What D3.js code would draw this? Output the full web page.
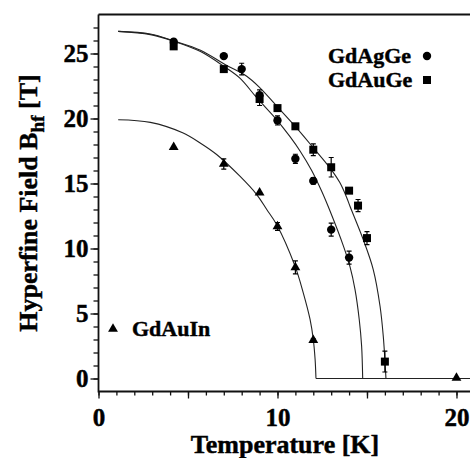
<!DOCTYPE html>
<html>
<head>
<meta charset="utf-8">
<script src="https://cdn.jsdelivr.net/npm/d3@7"></script>
<style>
  body { margin: 0; background: #fff; }
  svg { display: block; font-family: "Liberation Serif", "Times New Roman", serif; font-weight: bold; }
  svg text { stroke: #000; stroke-width: 0.45px; }
</style>
</head>
<body>
<script>
// Points mesurés (T en K, B en T, barre d'erreur +/-)
const tAgGe = [4.2, 7, 8, 9, 10, 11, 12, 13, 14];
const bAgGe = [25.9, 24.8, 23.8, 21.8, 19.85, 16.9, 15.2, 11.45, 9.3];
const eAgGe = [0.2, 0, 0.45, 0.4, 0.35, 0.35, 0.25, 0.5, 0.5];

const tAuGe = [4.2, 7, 9, 10, 11, 12, 13, 14, 14.5, 15, 16];
const bAuGe = [25.55, 23.8, 21.5, 20.8, 19.4, 17.6, 16.25, 14.45, 13.3, 10.8, 1.3];
const eAuGe = [0.2, 0.15, 0.5, 0.2, 0.2, 0.45, 0.75, 0.15, 0.47, 0.5, 0.8];

const tAuIn = [4.2, 7, 9, 10, 11, 12, 20];
const bAuIn = [17.8, 16.5, 14.3, 11.7, 8.55, 2.95, 0.05];
const eAuIn = [0, 0.4, 0, 0.3, 0.5, 0.1, 0];

// Courbes d'ajustement
const fitAgGe = [[1.1, 26.7], [2.9, 26.45], [4.2, 25.95], [5.7, 25.15], [7.07, 23.95], [7.9, 23.1],
    [8.84, 21.6], [9.96, 19.9], [10.7, 18.6], [11.26, 17.5], [11.91, 16.0], [12.47, 14.4],
    [12.93, 12.9], [13.68, 10.2], [14.05, 8.6], [14.33, 6.85], [14.57, 4.5], [14.7, 2.5], [14.76, 0]];
const fitAuGe = [[1.1, 26.7], [2.9, 26.5], [4.2, 25.97], [5.7, 25.25], [7.07, 24.15], [8.28, 23.25],
    [9.02, 22.36], [10.05, 20.82], [10.98, 19.41], [12.0, 17.75], [12.93, 16.2], [13.49, 15.05],
    [13.87, 13.9], [14.05, 13.25], [14.79, 10.69], [15.35, 8.38], [15.73, 5.56], [15.91, 3.25], [16.06, 0]];
const fitAuIn = [[1.1, 19.9], [2.9, 19.7], [4.7, 18.9], [5.7, 18.1], [6.6, 17.23], [7.9, 15.56],
    [8.84, 14.15], [9.4, 13.0], [9.95, 11.85], [10.98, 8.64], [11.44, 6.59], [11.82, 4.54],
    [12.0, 3.0], [12.1, 1.5], [12.15, 0]];
const zeroLine = [[12.15, 0], [20.8, 0]];

const xMajor = [0, 5, 10, 15, 20];
const xLabels = [0, 10, 20];
const yMajor = [0, 5, 10, 15, 20, 25];
const legendLabels = ["GdAgGe", "GdAuGe", "GdAuIn"];

const width = 470, height = 458;

const svg = d3.select("body").append("svg").attr("width", width).attr("height", height);

const x = d3.scaleLinear().domain([0, 20.8]).range([98.5, 470.8]);
const y = d3.scaleLinear().domain([-1, 28]).range([391.5, 14.5]);

drawAxes();
drawFits();
drawSeries(tAgGe, bAgGe, eAgGe, "circle");
drawSeries(tAuGe, bAuGe, eAuGe, "square");
drawSeries(tAuIn, bAuIn, eAuIn, "triangle");
drawLegend();
drawTitles();

function drawAxes() {
    // Graduations secondaires
    svg.append("g")
        .attr("transform", `translate(0,${y(-1)})`)
        .call(d3.axisBottom(x).tickValues(d3.range(0, 21)).tickSize(4).tickFormat(""))
        .call(g => g.select(".domain").remove());
    svg.append("g")
        .attr("transform", `translate(${x(0)},0)`)
        .call(d3.axisLeft(y).tickValues(d3.range(0, 28)).tickSize(5).tickFormat(""))
        .call(g => g.select(".domain").remove());

    // Graduations principales
    const xa = svg.append("g")
        .attr("transform", `translate(0,${y(-1)})`)
        .call(d3.axisBottom(x).tickValues(xMajor).tickSize(7).tickPadding(10)
            .tickFormat(d => xLabels.includes(d) ? d : ""))
        .call(g => g.select(".domain").remove());
    const ya = svg.append("g")
        .attr("transform", `translate(${x(0)},0)`)
        .call(d3.axisLeft(y).tickValues(yMajor).tickSize(8).tickPadding(2))
        .call(g => g.select(".domain").remove());

    [xa, ya].forEach(a => {
        a.selectAll("text")
            .attr("fill", "#000")
            .style("font-family", "'Liberation Serif', serif")
            .style("font-weight", "bold")
            .style("font-size", "25px");
    });
    svg.selectAll(".tick line").attr("stroke", "#111").attr("stroke-width", 1.3);

    // Cadre : axe gauche, axe bas, bord supérieur
    svg.append("path")
        .attr("d", `M${x(0)},${y(28)}V${y(-1)}H${width}M${x(0)},${y(28)}H${width}`)
        .attr("fill", "none")
        .attr("stroke", "#111")
        .attr("stroke-width", 1.8);
}

function drawFits() {
    const line = d3.line()
        .x(d => x(d[0]))
        .y(d => y(d[1]))
        .curve(d3.curveCatmullRom.alpha(0.5));

    [fitAgGe, fitAuGe, fitAuIn, zeroLine].forEach(pts => {
        svg.append("path")
            .attr("d", line(pts))
            .attr("fill", "none")
            .attr("stroke", "#222")
            .attr("stroke-width", 1.1);
    });
}

function drawMarker(g, shape, cx, cy) {
    if (shape === "circle") {
        g.append("circle").attr("cx", cx).attr("cy", cy).attr("r", 4.2).attr("fill", "#000");
    } else if (shape === "square") {
        g.append("rect").attr("x", cx - 4).attr("y", cy - 4)
            .attr("width", 8).attr("height", 8).attr("fill", "#000");
    } else {
        g.append("path")
            .attr("d", d3.symbol(d3.symbolTriangle, 42)())
            .attr("transform", `translate(${cx},${cy})`)
            .attr("fill", "#000");
    }
}

function drawSeries(ts, bs, es, shape) {
    const g = svg.append("g");
    ts.forEach((t, i) => {
        const cx = x(t), cy = y(bs[i]);
        if (es[i] > 0) {
            const y1 = y(bs[i] + es[i]), y2 = y(bs[i] - es[i]);
            g.append("path")
                .attr("d", `M${cx},${y1}V${y2}M${cx - 2.5},${y1}H${cx + 2.5}M${cx - 2.5},${y2}H${cx + 2.5}`)
                .attr("stroke", "#000")
                .attr("stroke-width", 1.2)
                .attr("fill", "none");
        }
        drawMarker(g, shape, cx, cy);
    });
}

function drawLegend() {
    const lg = svg.append("g")
        .style("font-size", "22px")
        .attr("fill", "#000");

    lg.append("text").attr("x", 328).attr("y", 63).text(legendLabels[0]);
    drawMarker(lg, "circle", 427, 56);
    lg.append("text").attr("x", 328).attr("y", 87).text(legendLabels[1]);
    drawMarker(lg, "square", 427, 80);
    drawMarker(lg, "triangle", 113, 329);
    lg.append("text").attr("x", 132).attr("y", 336).text(legendLabels[2]);
}

function drawTitles() {
    svg.append("text")
        .attr("x", 285)
        .attr("y", 453)
        .attr("text-anchor", "middle")
        .style("font-size", "26px")
        .text("Temperature [K]");

    const yt = svg.append("text")
        .attr("transform", `translate(37,203) rotate(-90)`)
        .attr("text-anchor", "middle")
        .style("font-size", "26px");
    yt.append("tspan").text("Hyperfine Field B");
    yt.append("tspan").attr("dy", 7).style("font-size", "19px").text("hf");
    yt.append("tspan").attr("dy", -7).text(" [T]");
}
</script>
</body>
</html>
